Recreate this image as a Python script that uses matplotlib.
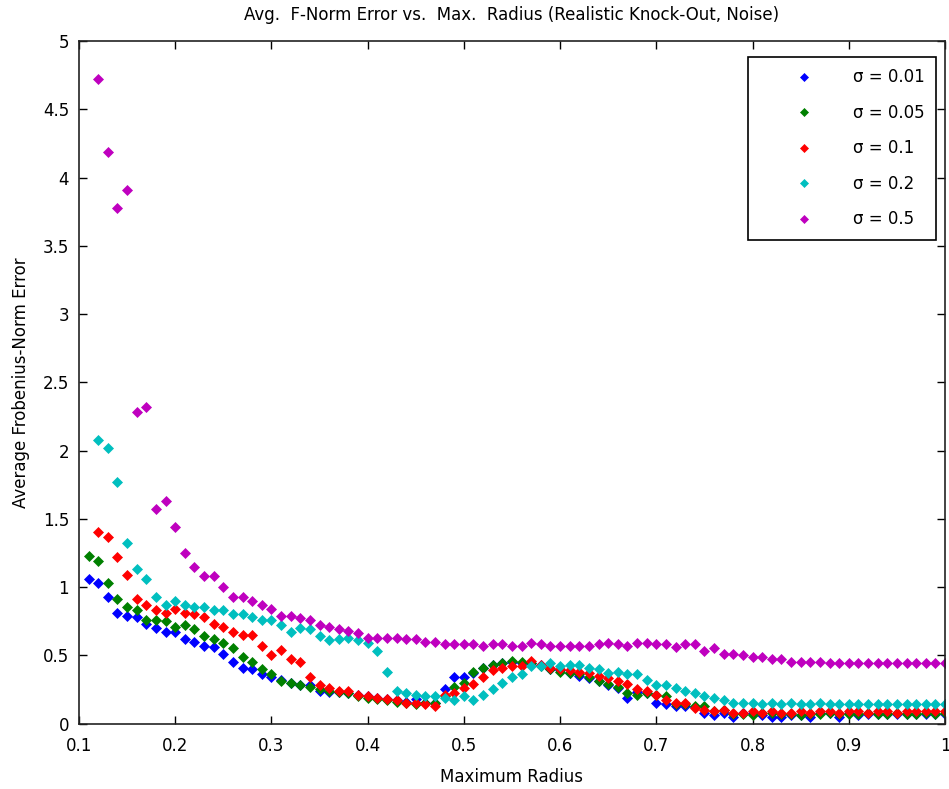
import numpy as np
import matplotlib
matplotlib.use('Agg')
import matplotlib.pyplot as plt
from matplotlib.ticker import FormatStrFormatter, MultipleLocator

# max radius values
r_blue = np.round(np.arange(0.11, 1.001, 0.01), 2)
r_rest = np.round(np.arange(0.12, 1.001, 0.01), 2)

err_001 = [1.06, 1.03, 0.93, 0.81, 0.79, 0.78, 0.73, 0.70, 0.67, 0.67,
           0.62, 0.60, 0.57, 0.56, 0.51, 0.45, 0.41, 0.40, 0.36, 0.34,
           0.32, 0.30, 0.28, 0.28, 0.24, 0.23, 0.23, 0.22, 0.21, 0.20,
           0.19, 0.18, 0.17, 0.16, 0.18, 0.15, 0.15, 0.25, 0.34, 0.34,
           0.37, 0.41, 0.43, 0.44, 0.45, 0.44, 0.44, 0.43, 0.40, 0.39,
           0.37, 0.35, 0.33, 0.31, 0.28, 0.26, 0.19, 0.23, 0.22, 0.15,
           0.14, 0.13, 0.13, 0.12, 0.08, 0.06, 0.08, 0.05, 0.08, 0.08,
           0.06, 0.05, 0.05, 0.06, 0.06, 0.05, 0.08, 0.08, 0.05, 0.08,
           0.06, 0.07, 0.07, 0.07, 0.07, 0.07, 0.07, 0.07, 0.07, 0.07]

err_005 = [1.23, 1.19, 1.03, 0.91, 0.85, 0.83, 0.76, 0.76, 0.75, 0.71,
           0.72, 0.69, 0.64, 0.62, 0.59, 0.55, 0.49, 0.45, 0.40, 0.36,
           0.31, 0.30, 0.28, 0.27, 0.25, 0.24, 0.23, 0.22, 0.20, 0.19,
           0.18, 0.17, 0.16, 0.15, 0.14, 0.15, 0.15, 0.20, 0.27, 0.30,
           0.38, 0.41, 0.43, 0.44, 0.46, 0.45, 0.44, 0.42, 0.40, 0.38,
           0.37, 0.36, 0.34, 0.31, 0.29, 0.27, 0.22, 0.21, 0.22, 0.21,
           0.20, 0.14, 0.14, 0.13, 0.13, 0.09, 0.10, 0.07, 0.07, 0.06,
           0.08, 0.08, 0.07, 0.07, 0.06, 0.07, 0.07, 0.08, 0.07, 0.07,
           0.07, 0.08, 0.07, 0.07, 0.08, 0.07, 0.07, 0.08, 0.07, 0.08]

err_01 = [1.40, 1.37, 1.22, 1.09, 0.91, 0.87, 0.83, 0.81, 0.84, 0.81,
          0.80, 0.78, 0.73, 0.71, 0.67, 0.65, 0.65, 0.57, 0.50, 0.54,
          0.47, 0.45, 0.34, 0.28, 0.26, 0.24, 0.24, 0.21, 0.20, 0.19,
          0.18, 0.17, 0.15, 0.15, 0.14, 0.13, 0.21, 0.22, 0.26, 0.29,
          0.34, 0.39, 0.41, 0.42, 0.42, 0.46, 0.43, 0.41, 0.40, 0.39,
          0.38, 0.37, 0.35, 0.33, 0.31, 0.29, 0.25, 0.24, 0.21, 0.17,
          0.15, 0.15, 0.11, 0.10, 0.09, 0.10, 0.08, 0.08, 0.09, 0.08,
          0.09, 0.08, 0.08, 0.09, 0.08, 0.09, 0.09, 0.08, 0.09, 0.09,
          0.08, 0.09, 0.09, 0.08, 0.09, 0.09, 0.09, 0.09, 0.09]

err_02 = [2.08, 2.02, 1.77, 1.32, 1.13, 1.06, 0.93, 0.87, 0.90, 0.87,
          0.85, 0.85, 0.83, 0.83, 0.80, 0.80, 0.78, 0.76, 0.76, 0.72,
          0.67, 0.70, 0.69, 0.64, 0.61, 0.62, 0.63, 0.61, 0.59, 0.53,
          0.38, 0.24, 0.22, 0.21, 0.20, 0.20, 0.19, 0.17, 0.20, 0.17,
          0.21, 0.25, 0.30, 0.34, 0.36, 0.42, 0.42, 0.44, 0.42, 0.43,
          0.43, 0.41, 0.40, 0.37, 0.38, 0.36, 0.36, 0.32, 0.28, 0.28,
          0.26, 0.24, 0.22, 0.20, 0.19, 0.17, 0.15, 0.15, 0.15, 0.14,
          0.15, 0.14, 0.15, 0.14, 0.14, 0.15, 0.14, 0.14, 0.14, 0.14,
          0.14, 0.14, 0.14, 0.14, 0.14, 0.14, 0.14, 0.14, 0.14]

err_05 = [4.72, 4.19, 3.78, 3.91, 2.28, 2.32, 1.57, 1.63, 1.44, 1.25,
          1.15, 1.08, 1.08, 1.00, 0.93, 0.93, 0.90, 0.87, 0.84, 0.79,
          0.79, 0.77, 0.76, 0.72, 0.71, 0.69, 0.68, 0.66, 0.63, 0.63,
          0.63, 0.63, 0.62, 0.62, 0.60, 0.60, 0.58, 0.58, 0.58, 0.58,
          0.57, 0.58, 0.58, 0.57, 0.57, 0.59, 0.58, 0.57, 0.57, 0.57,
          0.57, 0.57, 0.58, 0.59, 0.58, 0.57, 0.59, 0.59, 0.58, 0.58,
          0.56, 0.58, 0.58, 0.53, 0.55, 0.51, 0.51, 0.50, 0.49, 0.49,
          0.47, 0.47, 0.45, 0.45, 0.45, 0.45, 0.44, 0.44, 0.44, 0.44,
          0.44, 0.44, 0.44, 0.44, 0.44, 0.44, 0.44, 0.44, 0.44]

series = [
    (r_blue, err_001, (0, 0, 1), 'σ = 0.01'),
    (r_blue, err_005, (0, 0.5, 0), 'σ = 0.05'),
    (r_rest, err_01, (1, 0, 0), 'σ = 0.1'),
    (r_rest, err_02, (0, 0.75, 0.75), 'σ = 0.2'),
    (r_rest, err_05, (0.75, 0, 0.75), 'σ = 0.5'),
]

plt.rcParams['font.family'] = ['DejaVu Sans']
fig = plt.figure(figsize=(9.49, 7.89), dpi=100)
ax = fig.add_axes([0.0832, 0.083, 0.9126, 0.865])

for x, y, c, lab in series:
    ax.plot(x, y, linestyle='none', marker='D', markersize=5.5,
            markerfacecolor=c, markeredgecolor=c, markeredgewidth=0.5,
            label=lab)

ax.set_xlim(0.1, 1.0)
ax.set_ylim(0, 5)
ax.xaxis.set_major_locator(MultipleLocator(0.1))
ax.yaxis.set_major_locator(MultipleLocator(0.5))
ax.xaxis.set_major_formatter(FormatStrFormatter('%g'))
ax.yaxis.set_major_formatter(FormatStrFormatter('%g'))
ax.tick_params(direction='in', top=True, right=True, length=6, width=1,
               labelsize=12)
ax.tick_params(axis='x', pad=10)
ax.tick_params(axis='y', pad=7)
for sp in ax.spines.values():
    sp.set_linewidth(1.2)
    sp.set_color('#222222')

ax.set_title('Avg.  F-Norm Error vs.  Max.  Radius (Realistic Knock-Out, Noise)',
             fontsize=12, pad=15)
ax.set_xlabel('Maximum Radius', fontsize=12, labelpad=9)
ax.set_ylabel('Average Frobenius-Norm Error', fontsize=12, labelpad=9)

leg = ax.legend(loc='upper right', bbox_to_anchor=(0.99, 0.977),
                borderaxespad=0, numpoints=1, fancybox=False,
                edgecolor='black', framealpha=1, fontsize=12,
                handlelength=5.3, handletextpad=0.3, borderpad=0.7,
                labelspacing=1.05, markerscale=0.8)
leg.get_frame().set_linewidth(1.2)

fig.savefig('out.png', dpi=100)
